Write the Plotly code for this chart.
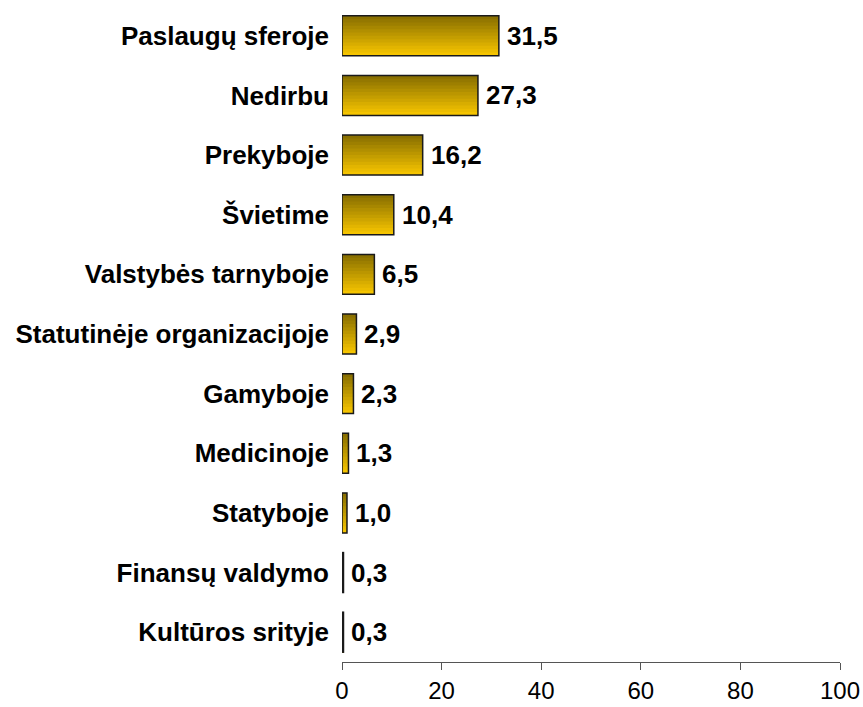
import plotly.graph_objects as go

categories = ["Paslaugų sferoje", "Nedirbu", "Prekyboje", "Švietime", "Valstybės tarnyboje",
              "Statutinėje organizacijoje", "Gamyboje", "Medicinoje", "Statyboje",
              "Finansų valdymo", "Kultūros srityje"]
values = [31.5, 27.3, 16.2, 10.4, 6.5, 2.9, 2.3, 1.3, 1.0, 0.3, 0.3]
x_ticks = [0, 20, 40, 60, 80, 100]

FONT = "Liberation Sans, Arial, sans-serif"
BAR_W = 0.67
N_STRIPS = 12
TOP_RGB = (0x8A, 0x70, 0x00)
BOT_RGB = (0xF5, 0xC4, 0x00)

fig = go.Figure()
# vertical gold gradient: overlaid bars, each later one covering a lower part
step = BAR_W / N_STRIPS
for i in range(N_STRIPS):
    t = i / (N_STRIPS - 1)
    rgb = tuple(round(a + (b - a) * t) for a, b in zip(TOP_RGB, BOT_RGB))
    fig.add_trace(go.Bar(
        x=values, y=categories, orientation="h",
        width=BAR_W - i * step, offset=-BAR_W / 2 + i * step,
        marker=dict(color="rgb(%d,%d,%d)" % rgb, line=dict(width=0)),
        hoverinfo="skip",
    ))
# outline
fig.add_trace(go.Bar(
    x=values, y=categories, orientation="h",
    width=BAR_W, offset=-BAR_W / 2,
    marker=dict(color="rgba(0,0,0,0)", line=dict(color="#1a1a1a", width=1.5)),
    hoverinfo="skip",
))

for c, v in zip(categories, values):
    fig.add_annotation(
        x=v, y=c, xref="x", yref="y", xanchor="left", yanchor="middle",
        xshift=6, showarrow=False,
        text="<b>" + f"{v:.1f}".replace(".", ",") + "</b>",
        font=dict(family=FONT, size=26, color="black"),
    )

fig.update_layout(
    width=863, height=707,
    margin=dict(l=342, r=23, t=6, b=45, autoexpand=False),
    plot_bgcolor="white", paper_bgcolor="white",
    showlegend=False, barmode="overlay",
    separators=",.",
)
fig.update_xaxes(
    range=[0, 100], tickvals=x_ticks, ticktext=[str(t) for t in x_ticks],
    showgrid=False, zeroline=False, showline=True, linecolor="#555555", linewidth=1.2,
    ticks="outside", ticklen=7, tickcolor="#555555", tickwidth=1.2,
    tickfont=dict(family=FONT, size=24, color="black"), automargin=False,
)
fig.update_yaxes(
    autorange="reversed", showgrid=False, zeroline=False, showline=False,
    ticks="", ticklabelstandoff=12, automargin=False,
    tickfont=dict(family=FONT, size=26, color="black", weight="bold"),
)

fig.write_html(
    "out.html",
    config={"displayModeBar": False},
    post_script="document.body.style.margin='0';document.body.style.overflow='hidden';",
)
